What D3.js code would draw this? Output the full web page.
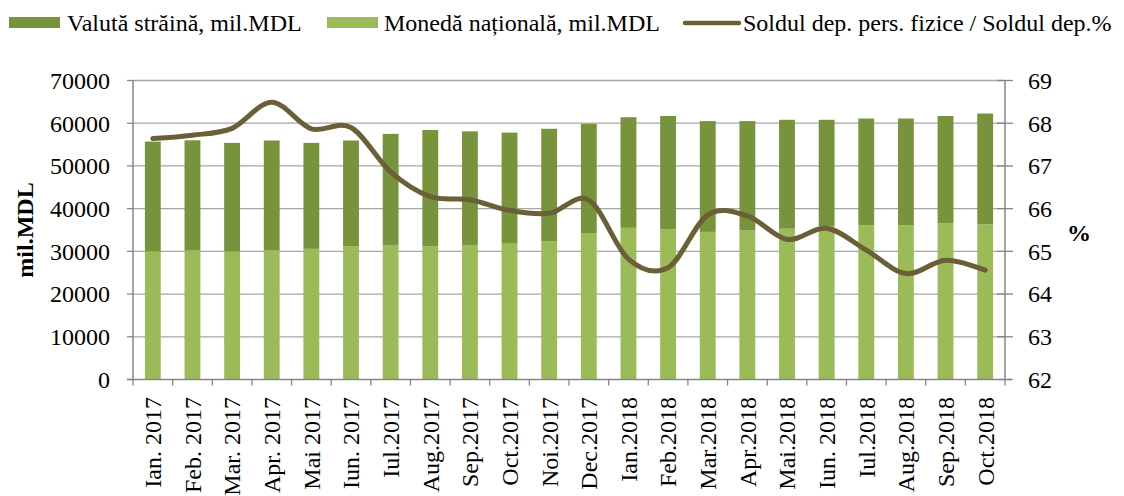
<!DOCTYPE html>
<html>
<head>
<meta charset="utf-8">
<script src="https://cdn.jsdelivr.net/npm/d3@7"></script>
<style>
  body { margin: 0; background: #fff; }
  svg text { font-family: "Liberation Serif", serif; fill: #000; }
</style>
</head>
<body>
<svg id="chart" width="1124" height="496"></svg>
<script>
// * monthly deposits, Jan 2017 - Oct 2018
var months = ['Ian. 2017', 'Feb. 2017', 'Mar. 2017', 'Apr. 2017', 'Mai 2017', 'Iun. 2017',
              'Iul.2017', 'Aug.2017', 'Sep.2017', 'Oct.2017', 'Noi.2017', 'Dec.2017',
              'Ian.2018', 'Feb.2018', 'Mar.2018', 'Apr.2018', 'Mai.2018', 'Iun. 2018',
              'Iul.2018', 'Aug.2018', 'Sep.2018', 'Oct.2018'];
var nationala = [30000, 30200, 30000, 30200, 30600, 31200, 31500, 31200, 31500, 31800, 32400,
                 34300, 35500, 35200, 34560, 34880, 35300, 35900, 36100, 36100, 36600, 36350];
var straina   = [25700, 25800, 25400, 25750, 24800, 24750, 26000, 27200, 26600, 26000, 26300,
                 25550, 25900, 26500, 25940, 25620, 25500, 24900, 25000, 25000, 25100, 25920];
var ponderea  = [67.64, 67.72, 67.88, 68.49, 67.87, 67.90, 66.86, 66.28, 66.21, 65.96, 65.89,
                 66.20, 64.82, 64.62, 65.85, 65.83, 65.28, 65.54, 65.03, 64.48, 64.79, 64.56];
var leftTicks  = [0, 10000, 20000, 30000, 40000, 50000, 60000, 70000];
var rightTicks = [62, 63, 64, 65, 66, 67, 68, 69];
var legendNames = ['Valută străină, mil.MDL', 'Monedă națională, mil.MDL',
                   'Soldul dep. pers. fizice / Soldul dep.%'];

(function drawChart() {
  var colDark = '#77933c', colLight = '#9bbb59', colLine = '#6b5f37';
  var gridCol = '#a6a6a6', axisCol = '#868686';

  var svg = d3.select('#chart');
  // note: not called "top" - that name clashes with window.top
  var pl = 133, pr = 1005, pt = 80.5, pb = 379.5;

  var x = d3.scaleBand().domain(months).range([pl, pr]).paddingInner(0.6).paddingOuter(0.3);
  var yL = d3.scaleLinear().domain([0, 70000]).range([pb, pt]);
  var yR = d3.scaleLinear().domain([62, 69]).range([pb, pt]);
  var step = x.step();

  // gridlines
  svg.append('g').selectAll('line').data(leftTicks.slice(1)).join('line')
    .attr('x1', pl).attr('x2', pr)
    .attr('y1', d => yL(d)).attr('y2', d => yL(d))
    .attr('stroke', gridCol).attr('stroke-width', 1.3);

  // bars: national at the bottom, foreign stacked above
  var rows = months.map((m, i) => ({ m: m, n: nationala[i], s: straina[i] }));
  var stack = d3.stack().keys(['n', 's'])(rows);
  var colours = [colLight, colDark];
  svg.append('g').selectAll('g').data(stack).join('g')
    .attr('fill', (d, i) => colours[i])
    .selectAll('rect').data(d => d).join('rect')
    .attr('x', d => x(d.data.m))
    .attr('width', x.bandwidth())
    .attr('y', d => yL(d[1]))
    .attr('height', d => yL(d[0]) - yL(d[1]));

  // axis lines
  svg.append('line').attr('x1', pl).attr('x2', pl).attr('y1', pt).attr('y2', pb)
    .attr('stroke', axisCol).attr('stroke-width', 1.5);
  svg.append('line').attr('x1', pr).attr('x2', pr).attr('y1', pt).attr('y2', pb)
    .attr('stroke', axisCol).attr('stroke-width', 1.5);
  svg.append('line').attr('x1', pl - 6).attr('x2', pr + 6).attr('y1', pb).attr('y2', pb)
    .attr('stroke', axisCol).attr('stroke-width', 1.5);

  // left ticks + labels
  var gl = svg.append('g');
  gl.selectAll('line').data(leftTicks).join('line')
    .attr('x1', pl - 6).attr('x2', pl)
    .attr('y1', d => yL(d)).attr('y2', d => yL(d))
    .attr('stroke', axisCol).attr('stroke-width', 1.3);
  gl.selectAll('text').data(leftTicks).join('text')
    .attr('x', 110).attr('y', d => yL(d)).attr('dy', '0.35em')
    .attr('text-anchor', 'end').style('font-size', '24px')
    .text(d => d);

  // right ticks + labels
  var gr = svg.append('g');
  gr.selectAll('line').data(rightTicks).join('line')
    .attr('x1', pr - 8).attr('x2', pr + 8)
    .attr('y1', d => yR(d)).attr('y2', d => yR(d))
    .attr('stroke', axisCol).attr('stroke-width', 1.3);
  gr.selectAll('text').data(rightTicks).join('text')
    .attr('x', 1028).attr('y', d => yR(d)).attr('dy', '0.35em')
    .style('font-size', '24px')
    .text(d => d);

  // x ticks between categories
  svg.append('g').selectAll('line').data(d3.range(months.length + 1)).join('line')
    .attr('x1', i => pl + i * step).attr('x2', i => pl + i * step)
    .attr('y1', pb).attr('y2', pb + 6)
    .attr('stroke', axisCol).attr('stroke-width', 1.3);

  // x labels, rotated
  svg.append('g').selectAll('text').data(months).join('text')
    .attr('transform', d => 'translate(' + (x(d) + x.bandwidth() / 2) + ',397) rotate(-90)')
    .attr('dy', '0.35em').attr('text-anchor', 'end')
    .style('font-size', '24px')
    .text(d => d);

  // axis titles
  svg.append('text').attr('transform', 'translate(25,230) rotate(-90)')
    .attr('text-anchor', 'middle').attr('dy', '0.35em')
    .style('font-size', '24px').style('font-weight', 'bold')
    .text('mil.MDL');
  svg.append('text').attr('x', 1079).attr('y', 233).attr('dy', '0.35em')
    .attr('text-anchor', 'middle')
    .style('font-size', '24px').style('font-weight', 'bold')
    .text('%');

  // line on the right axis (uniform catmull-rom, close to excel's smoothing)
  var line = d3.line()
    .x((d, i) => x(months[i]) + x.bandwidth() / 2)
    .y(d => yR(d))
    .curve(d3.curveCatmullRom.alpha(0));
  svg.append('path').datum(ponderea)
    .attr('d', line)
    .attr('fill', 'none').attr('stroke', colLine)
    .attr('stroke-width', 5).attr('stroke-linecap', 'round');

  // legend
  var lg = svg.append('g');
  var legX = [9, 327, 685];
  lg.append('rect').attr('x', legX[0]).attr('y', 17).attr('width', 51).attr('height', 11).attr('fill', colDark);
  lg.append('rect').attr('x', legX[1]).attr('y', 17).attr('width', 51).attr('height', 11).attr('fill', colLight);
  lg.append('line').attr('x1', legX[2]).attr('x2', legX[2] + 54).attr('y1', 23).attr('y2', 23)
    .attr('stroke', colLine).attr('stroke-width', 4.5).attr('stroke-linecap', 'round');
  lg.selectAll('text').data(legendNames).join('text')
    .attr('x', (d, i) => [67, 384, 743][i]).attr('y', 23).attr('dy', '0.35em')
    .style('font-size', '24px')
    .text(d => d);
})();
</script>
</body>
</html>
